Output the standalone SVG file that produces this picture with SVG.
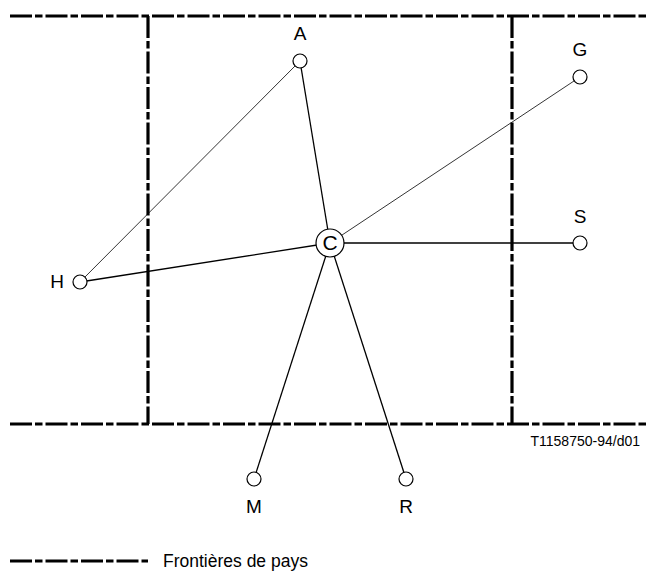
<svg xmlns="http://www.w3.org/2000/svg" width="648" height="571" viewBox="0 0 648 571">
<style>
.border{stroke:#000;stroke-width:3.2;fill:none;stroke-dasharray:22 3 7.5 3}
.ln{stroke:#000;stroke-width:1.3;fill:none}
.thin{stroke:#000;stroke-width:0.8;fill:none}
.node{fill:#fff;stroke:#000;stroke-width:1.2}
.lbl{font-family:"Liberation Sans",Arial,sans-serif;font-size:19px;fill:#000;text-anchor:middle}
.small{font-family:"Liberation Sans",Arial,sans-serif;font-size:14px;fill:#000}
</style>
<g id="borders">
<line class="border" x1="10" y1="16" x2="648" y2="16"/>
<line class="border" x1="10" y1="424" x2="648" y2="424"/>
<line class="border" x1="148" y1="16" x2="148" y2="424"/>
<line class="border" x1="512" y1="16" x2="512" y2="424"/>
</g>
<g id="connectors">
<line class="ln" x1="300" y1="61" x2="330" y2="243"/>
<line class="thin" x1="300" y1="61" x2="80" y2="282"/>
<line class="ln" x1="80" y1="282" x2="330" y2="243"/>
<line class="thin" x1="330" y1="243" x2="580" y2="77"/>
<line class="ln" x1="330" y1="243" x2="580" y2="243"/>
<line class="ln" x1="330" y1="243" x2="254" y2="479"/>
<line class="ln" x1="330" y1="243" x2="406" y2="479"/>
</g>
<g id="node-A"><circle class="node" cx="300" cy="61" r="7"/><text class="lbl" x="300" y="40">A</text></g>
<g id="node-G"><circle class="node" cx="580" cy="77" r="7"/><text class="lbl" x="580" y="56">G</text></g>
<g id="node-S"><circle class="node" cx="580" cy="243" r="7"/><text class="lbl" x="580" y="223">S</text></g>
<g id="node-H"><circle class="node" cx="80" cy="282" r="7"/><text class="lbl" x="57" y="288">H</text></g>
<g id="node-M"><circle class="node" cx="254" cy="479" r="7"/><text class="lbl" x="254" y="513">M</text></g>
<g id="node-R"><circle class="node" cx="406" cy="479" r="7"/><text class="lbl" x="406" y="513">R</text></g>
<g id="node-C"><circle class="node" cx="330" cy="243" r="14" stroke-width="1.4"/><text class="lbl" x="330" y="250" style="font-size:21px">C</text></g>
<text class="small" x="640" y="446" text-anchor="end">T1158750-94/d01</text>
<g id="legend">
<line class="border" x1="10" y1="561" x2="148" y2="561"/>
<text class="small" x="163" y="567" style="font-size:17.5px">Frontières de pays</text>
</g>
</svg>
